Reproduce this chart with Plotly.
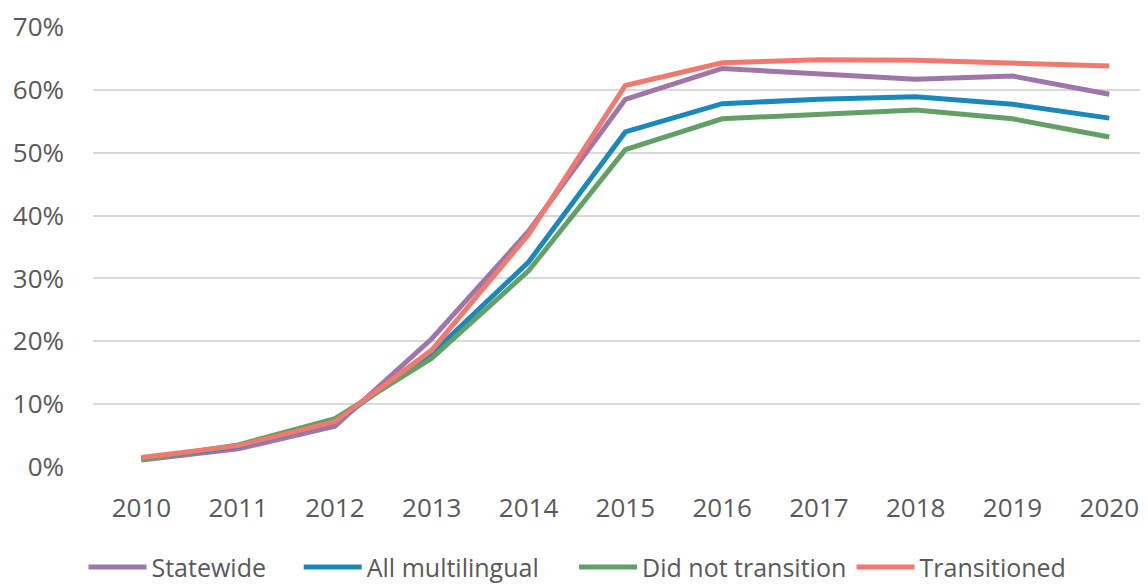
import plotly.graph_objects as go

years = [2010, 2011, 2012, 2013, 2014, 2015, 2016, 2017, 2018, 2019, 2020]
statewide = [1.1, 2.9, 6.5, 20.4, 37.5, 58.5, 63.4, 62.5, 61.7, 62.2, 59.3]
all_multilingual = [1.3, 3.3, 7.2, 18.0, 32.6, 53.3, 57.8, 58.5, 58.9, 57.7, 55.5]
did_not_transition = [1.2, 3.5, 7.7, 17.3, 31.2, 50.5, 55.4, 56.1, 56.8, 55.4, 52.5]
transitioned = [1.5, 3.4, 7.2, 18.6, 37.0, 60.7, 64.3, 64.8, 64.7, 64.2, 63.8]

series = [
    ("Statewide", statewide, "#9E76A9"),
    ("All multilingual", all_multilingual, "#1A88BC"),
    ("Did not transition", did_not_transition, "#62A065"),
    ("Transitioned", transitioned, "#F07970"),
]

tick_vals = [0, 10, 20, 30, 40, 50, 60, 70]
tick_text = ["0%", "10%", "20%", "30%", "40%", "50%", "60%", "70%"]

# legend placement (paper x of each legend entry)
legend_x = [-0.009, 0.195, 0.456, 0.719]
legend_names = ["legend", "legend2", "legend3", "legend4"]

fig = go.Figure()
for (name, vals, color), lg in zip(series, legend_names):
    fig.add_trace(go.Scatter(x=years, y=vals, name=name, mode="lines",
                             line=dict(color=color, width=5), legend=lg))

font_family = "Open Sans, Noto Sans, sans-serif"
legend_common = dict(orientation="h", xanchor="left", y=-0.228, yanchor="middle",
                     font=dict(size=25, color="#595959"), itemwidth=58,
                     bgcolor="rgba(0,0,0,0)")
layout_legends = {}
for lg, lx in zip(legend_names, legend_x):
    layout_legends[lg] = dict(x=lx, **legend_common)

fig.update_layout(
    width=1140, height=577,
    margin=dict(l=85, r=0, t=19, b=118, autoexpand=False),
    paper_bgcolor="white", plot_bgcolor="white",
    font=dict(family=font_family, size=26, color="#595959"),
    showlegend=True,
    xaxis=dict(range=[2009.5, 2020.4], tickmode="array", tickvals=years,
               ticktext=[str(y) for y in years], showgrid=False, zeroline=False,
               showline=False, ticks="", ticklabelstandoff=23, automargin=False),
    yaxis=dict(range=[0, 70], tickmode="array", tickvals=tick_vals, ticktext=tick_text,
               showgrid=True, gridcolor="#D9D9D9", gridwidth=1.5, zeroline=False,
               showline=False, ticks="", ticklabelstandoff=28, automargin=False),
    **layout_legends,
)

fig.write_html("out.html")
